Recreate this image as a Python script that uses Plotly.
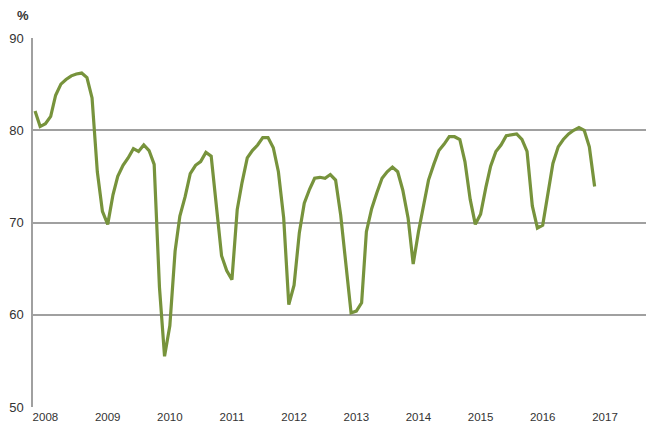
import pandas as pd
import plotly.graph_objects as go

# monthly series, Nov 2007 .. Nov 2016
months = pd.date_range("2007-11-01", periods=109, freq="MS")
values = [
    82.1, 80.4, 80.7, 81.5, 83.8, 85.0, 85.5, 85.9, 86.1, 86.2, 85.7, 83.5,
    75.5, 71.2, 69.8, 73.0, 75.0, 76.2, 77.0, 78.0, 77.7, 78.4, 77.8, 76.3,
    63.0, 55.5, 58.8, 66.9, 70.7, 72.8, 75.3, 76.2, 76.6, 77.6, 77.2, 72.0,
    66.4, 64.8, 63.8, 71.4, 74.3, 77.0, 77.8, 78.4, 79.2, 79.2, 78.1, 75.5,
    70.5, 61.1, 63.2, 68.9, 72.1, 73.6, 74.8, 74.9, 74.8, 75.2, 74.6, 70.8,
    65.0, 60.2, 60.4, 61.3, 69.0, 71.5, 73.2, 74.8, 75.5, 76.0, 75.5, 73.5,
    70.5, 65.5, 69.0, 72.1, 74.6, 76.3, 77.8, 78.5, 79.3, 79.3, 79.0, 76.6,
    72.5, 69.8, 70.9, 73.8, 76.1, 77.7, 78.4, 79.4, 79.5, 79.6, 79.0, 77.7,
    71.8, 69.4, 69.7, 73.2, 76.4, 78.2, 79.0, 79.6, 80.0, 80.3, 80.0, 78.2,
    73.9,
]
y_ticks = [50, 60, 70, 80, 90]

LINE = "#77933C"
GRID = "#A0A0A0"
TEXT = "#333333"

fig = go.Figure(go.Scatter(
    x=months,
    y=values,
    mode="lines",
    line=dict(color=LINE, width=3.2),
    hoverinfo="skip",
))

# page body adds an 8px margin, so the figure is 8px smaller than the window
fig.update_layout(
    width=646,
    height=419,
    plot_bgcolor="white",
    paper_bgcolor="white",
    showlegend=False,
    margin=dict(l=25, r=0, t=30, b=20),
    font=dict(family="Liberation Sans, Arial, sans-serif", color=TEXT, size=13),
    xaxis=dict(
        type="date",
        range=["2007-10-20", "2017-10-16"],
        tick0="2008-01-01",
        dtick="M12",
        tickformat="%Y",
        showgrid=False,
        zeroline=False,
        showline=False,
        ticks="",
        tickfont=dict(size=11.5),
        ticklabelstandoff=1,
    ),
    yaxis=dict(
        range=[50, 90],
        tickvals=y_ticks,
        showgrid=True,
        gridcolor=GRID,
        gridwidth=1.5,
        zeroline=False,
        showline=True,
        linecolor=GRID,
        linewidth=1.5,
        ticks="",
        ticklabelstandoff=5,
        tickfont=dict(size=13),
    ),
)

fig.add_annotation(
    text="<b>%</b>", xref="paper", yref="paper", x=0, y=1,
    xshift=-18, yshift=32, showarrow=False, font=dict(size=13, color=TEXT),
)

fig.write_html("out.html")
